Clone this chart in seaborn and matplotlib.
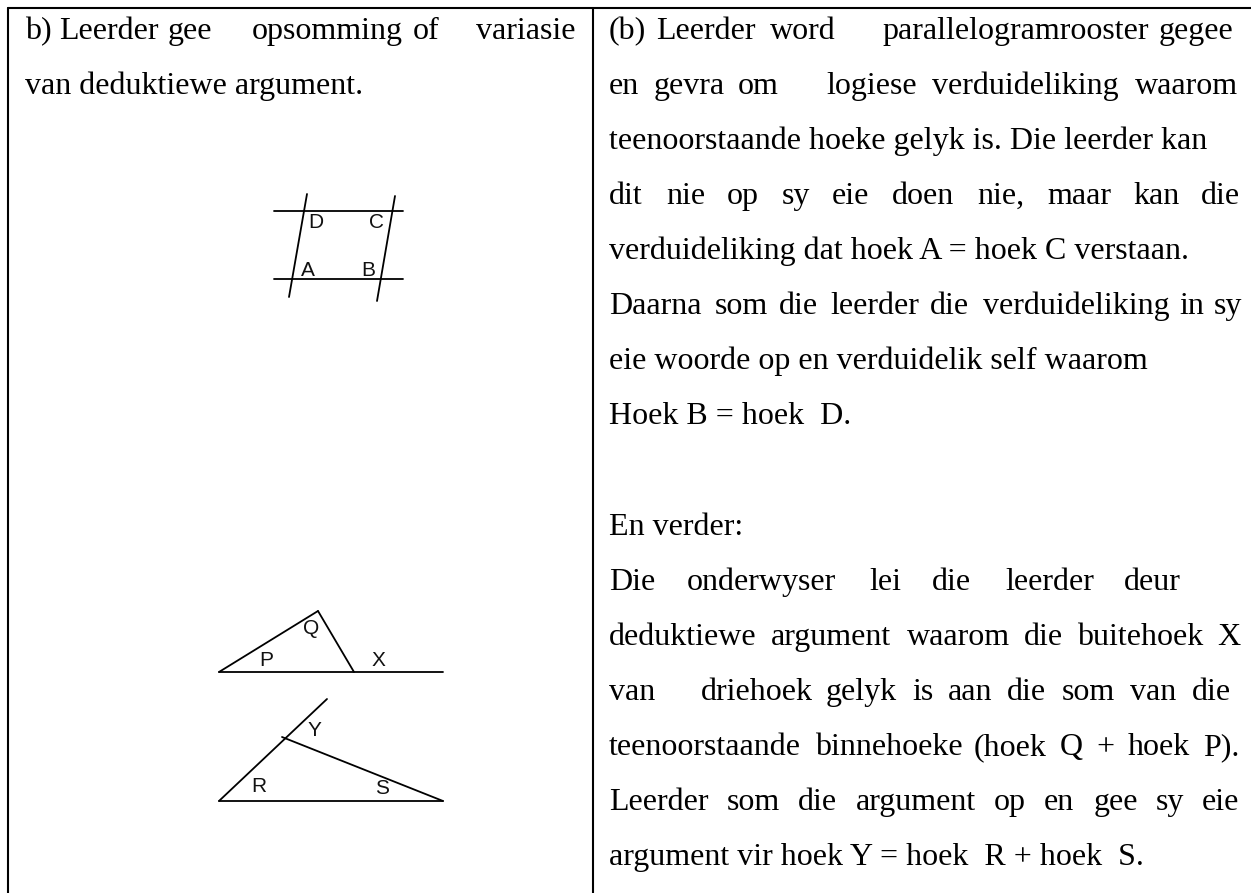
import pandas as pd
import matplotlib
matplotlib.use("Agg")
import matplotlib.pyplot as plt
import seaborn as sns

# Text of the two table cells, one list of words per printed line
left_words = [
    ["b)", "Leerder", "gee", "opsomming", "of", "variasie"],
    ["van deduktiewe argument."],
]
left_word_x = [
    [25, 59, 168, 252, 413, 476],
    [25],
]
right_words = [
    ["(b)", "Leerder", "word", "parallelogramrooster", "gegee"],
    ["en", "gevra", "om", "logiese", "verduideliking", "waarom"],
    ["teenoorstaande hoeke gelyk is. Die leerder kan"],
    ["dit", "nie", "op", "sy", "eie", "doen", "nie,", "maar", "kan", "die"],
    ["verduideliking dat hoek A = hoek C verstaan."],
    ["Daarna", "som", "die", "leerder", "die", "verduideliking", "in", "sy"],
    ["eie woorde op en verduidelik self waarom"],
    ["Hoek B = hoek  D."],
    [],
    ["En verder:"],
    ["Die", "onderwyser", "lei", "die", "leerder", "deur"],
    ["deduktiewe", "argument", "waarom", "die", "buitehoek", "X"],
    ["van", "driehoek", "gelyk", "is", "aan", "die", "som", "van", "die"],
    ["teenoorstaande", "binnehoeke", "(hoek", "Q", "+", "hoek", "P)."],
    ["Leerder", "som", "die", "argument", "op", "en", "gee", "sy", "eie"],
    ["argument vir hoek Y = hoek  R + hoek  S."],
]
right_word_x = [
    [609, 656, 770, 882, 1159],
    [609, 654, 738, 826, 932, 1135],
    [609],
    [609, 666, 727, 782, 832, 892, 977, 1047, 1133, 1201],
    [609],
    [609, 715, 779, 830, 930, 983, 1179, 1214],
    [609],
    [609],
    [],
    [609],
    [609, 687, 869, 932, 1005, 1124],
    [609, 771, 907, 1024, 1077, 1217],
    [609, 701, 826, 912, 948, 1007, 1062, 1130, 1192],
    [609, 815, 974, 1060, 1096, 1128, 1203],
    [609, 727, 798, 856, 994, 1044, 1094, 1156, 1202],
    [609],
]

# Line segments of the table and the three sketches
seg_x0 = [7.5, 7.5, 592.5, 274, 274, 307, 395, 219, 219, 318, 219, 219, 282]
seg_y0 = [7.5, 7.5, 7.5, 211, 279, 194, 196, 672, 672, 611, 801, 801, 737]
seg_x1 = [1251, 7.5, 592.5, 403, 403, 289, 377, 443, 318, 354, 443, 327, 443]
seg_y1 = [7.5, 893, 893, 211, 279, 297, 301, 672, 611, 672, 801, 699, 801]
seg_w = ["t", "t", "t", "s", "s", "s", "s", "s", "s", "s", "s", "s", "s"]

# Angle letters
angle_names = ["D", "C", "A", "B", "Q", "P", "X", "Y", "R", "S"]
angle_x = [316, 377, 308, 368, 311, 266, 378, 314, 259, 382]
angle_y = [223, 223, 270, 270, 629, 660, 660, 731, 786, 788]

sns.set_theme(style="white")
plt.rcParams["font.family"] = ["Liberation Serif", "DejaVu Serif"]

fig = plt.figure(figsize=(12.51, 8.93), dpi=100)
ax = fig.add_axes([0, 0, 1, 1])

lines = pd.DataFrame({"x": seg_x0 + seg_x1, "y": seg_y0 + seg_y1,
                      "seg": list(range(len(seg_x0))) * 2, "w": seg_w * 2})
sns.lineplot(data=lines[lines.w == "t"], x="x", y="y", units="seg", estimator=None,
             sort=False, color="black", linewidth=1.5, ax=ax)
sns.lineplot(data=lines[lines.w == "s"], x="x", y="y", units="seg", estimator=None,
             sort=False, color="black", linewidth=1.3, ax=ax)
ax.set_xlim(0, 1251)
ax.set_ylim(893, 0)
ax.axis("off")

for n, x, y in zip(angle_names, angle_x, angle_y):
    ax.text(x, y, n, fontsize=15, family="Liberation Sans", ha="center", va="center", color="#111111")

fontsize = 23
first_base = 39
line_step = 55.07


def draw_cell(rows, rows_x):
    for i, (row, xs) in enumerate(zip(rows, rows_x)):
        y = first_base + i * line_step
        for word, x in zip(row, xs):
            ax.text(x, y, word, fontsize=fontsize, va="baseline", color="black")


draw_cell(left_words, left_word_x)
draw_cell(right_words, right_word_x)

fig.savefig("out.png", dpi=100)
